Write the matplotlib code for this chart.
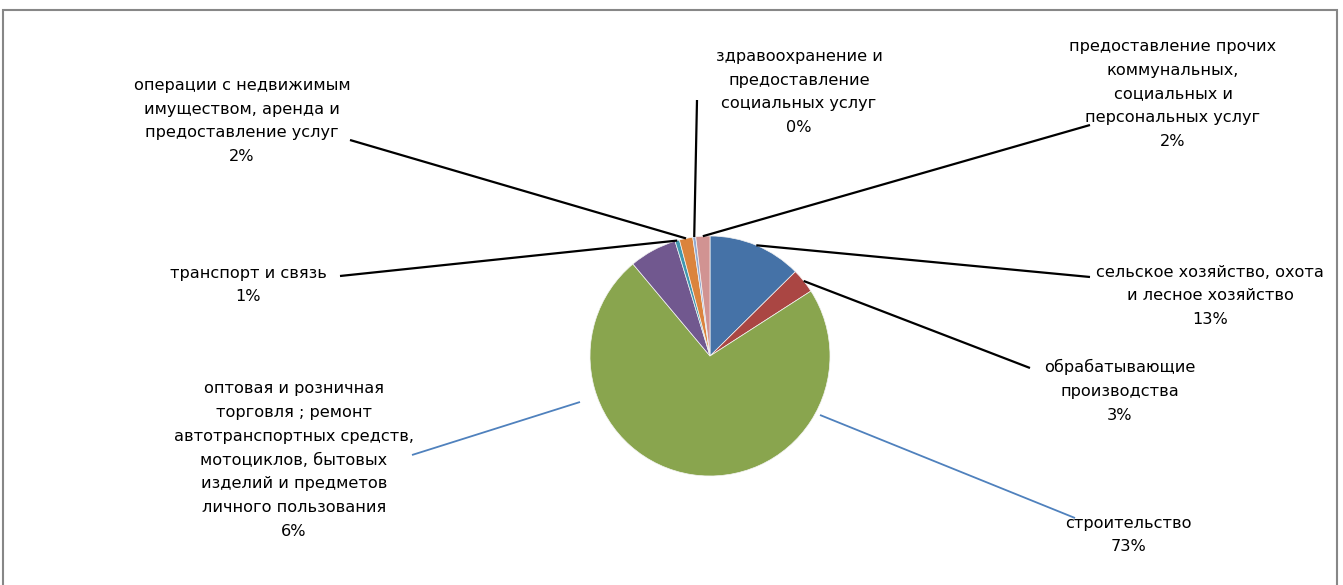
import numpy as np
import matplotlib
matplotlib.use("Agg")
import matplotlib.pyplot as plt
from matplotlib.patches import Rectangle

plt.rcParams['font.family'] = ['DejaVu Sans']

categories = [
    "сельское хозяйство, охота\nи лесное хозяйство",
    "обрабатывающие\nпроизводства",
    "строительство",
    "оптовая и розничная\nторговля ; ремонт\nавтотранспортных средств,\nмотоциклов, бытовых\nизделий и предметов\nличного пользования",
    "транспорт и связь",
    "операции с недвижимым\nимуществом, аренда и\nпредоставление услуг",
    "здравоохранение и\nпредоставление\nсоциальных услуг",
    "предоставление прочих\nкоммунальных,\nсоциальных и\nперсональных услуг",
]
values = [12.6, 3.3, 73.0, 6.4, 0.6, 1.8, 0.4, 1.9]
colors = ["#4572A7", "#AA4643", "#89A54E", "#71588F", "#4198AF", "#DB843D", "#93A9CF", "#D19392"]

W, H = 1343, 585
fig = plt.figure(figsize=(W / 100, H / 100), dpi=100)
ax = fig.add_axes([0, 0, 1, 1])

def Y(y):
    return H - y

cx, cy, R = 710, 356, 120
wedges, _ = ax.pie(values, colors=colors, startangle=90, counterclock=False,
                   center=(cx, Y(cy)), radius=R, frame=True,
                   wedgeprops=dict(linewidth=0.5, edgecolor="#f4f4f4"))
ax.set_xlim(0, W)
ax.set_ylim(0, H)
ax.axis("off")

# label layout: (center x, center y of block), leader end, leader color, explicit start
layout = [
    ((1210, 296), (1090, 277), "black", None),
    ((1120, 391), (1030, 368), "black", None),
    ((1128, 535), (1075, 518), "#4F81BD", (820, 415)),
    ((294, 460), (412, 455), "#4F81BD", (580, 402)),
    ((248, 285), (340, 276), "black", None),
    ((242, 121), (350, 140), "black", None),
    ((799, 92), (697, 100), "black", None),
    ((1173, 94), (1090, 125), "black", None),
]

for w, cat, v, (pos, end, lc, start) in zip(wedges, categories, values, layout):
    if start is None:
        ang = np.deg2rad((w.theta1 + w.theta2) / 2)
        sx = cx + R * np.cos(ang)
        sy = Y(cy) + R * np.sin(ang)
    else:
        sx, sy = start[0], Y(start[1])
    ax.plot([sx, end[0]], [sy, Y(end[1])], color=lc,
            lw=1.6 if lc == "black" else 1.3, solid_capstyle="butt", zorder=1)
    ax.text(pos[0], Y(pos[1]), f"{cat}\n{v:.0f}%", ha="center", va="center",
            fontsize=11.6, linespacing=1.72, color="black")

ax.add_patch(Rectangle((3, -20), 1334, Y(10) + 20, fill=False, edgecolor="#878787", lw=1.5))

fig.savefig("out.png", dpi=100)
